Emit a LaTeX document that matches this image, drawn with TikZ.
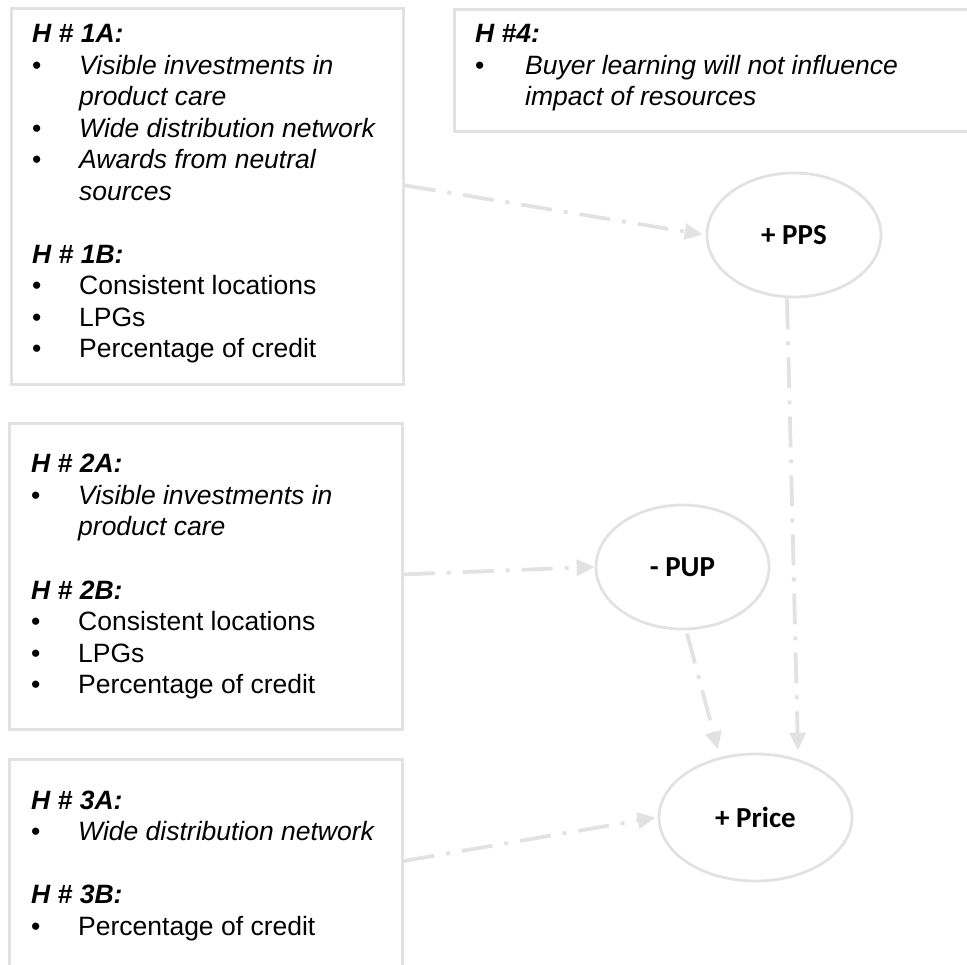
\documentclass[tikz,border=0pt]{standalone}
\usepackage{fontspec}
\setmainfont{Liberation Sans}
\newfontfamily\calfont{Carlito}
\usetikzlibrary{arrows.meta,shapes.geometric}

\definecolor{pale}{RGB}{226,226,226}
\newcommand\txtsize{\fontsize{26.5}{31.5}\selectfont}

% one heading line, one bulleted line, one continuation line
\newcommand\hdrln[4]{\node[hdr] (#1) at (#2,#3) {#4};}
\newcommand\bulln[6]{\node[dotmark] (#1-b) at (#2,#3) {\textbullet};
  \node[#5, xshift=#4pt] (#1) at (#2,#3) {#6};}
\newcommand\contln[5]{\node[#4] (#1) at (#2,#3) {#5};}

\tikzset{
  frame/.style={draw=pale, line width=2.8pt, rectangle, anchor=north west, inner sep=0pt},
  hdr/.style={anchor=base west, inner sep=0pt, font=\txtsize\bfseries\itshape},
  dotmark/.style={anchor=base west, inner sep=0pt, font=\txtsize},
  up/.style={anchor=base west, inner sep=0pt, font=\txtsize},
  it/.style={anchor=base west, inner sep=0pt, font=\txtsize\itshape},
  oval/.style={ellipse, draw=pale, line width=2.8pt, inner sep=0pt,
    font=\calfont\fontsize{29}{34}\selectfont\bfseries},
  conn/.style={draw=pale, line width=3.8pt,
    dash pattern=on 31pt off 12pt on 4pt off 12pt,
    -{Triangle[length=18pt,width=16pt]}}
}

\begin{document}
\begin{tikzpicture}[x=1pt, y=-1pt]
\useasboundingbox (0,0) rectangle (967,965);
\clip (0,0) rectangle (967,965);

% hypothesis boxes
\node[frame, minimum width=392pt, minimum height=376pt] (box1) at (10,7) {};
\node[frame, minimum width=547pt, minimum height=122pt] (box4) at (453,8) {};
\node[frame, minimum width=393pt, minimum height=306pt] (box2) at (8,422) {};
\node[frame, minimum width=393pt, minimum height=242pt] (box3) at (8,758) {};

% box 1
\hdrln{h1a}{32}{43}{H \# 1A:}
\bulln{a1}{32}{74.5}{47}{it}{Visible investments in}
\contln{a1c}{79}{106}{it}{product care}
\bulln{a2}{32}{137.5}{47}{it}{Wide distribution network}
\bulln{a3}{32}{169}{47}{it}{Awards from neutral}
\contln{a3c}{79}{200.5}{it}{sources}
\hdrln{h1b}{32}{263.5}{H \# 1B:}
\bulln{a4}{32}{295}{47}{up}{Consistent locations}
\bulln{a5}{32}{326.5}{47}{up}{LPGs}
\bulln{a6}{32}{358}{47}{up}{Percentage of credit}

% box 4
\hdrln{h4}{475}{43}{H \#4:}
\bulln{d1}{475}{74.5}{50}{it}{Buyer learning will not influence}
\contln{d1c}{525}{106}{it}{impact of resources}

% box 2
\hdrln{h2a}{31}{473}{H \# 2A:}
\bulln{b1}{31}{504.5}{47}{it}{Visible investments in}
\contln{b1c}{78}{536}{it}{product care}
\hdrln{h2b}{31}{599}{H \# 2B:}
\bulln{b2}{31}{630.5}{47}{up}{Consistent locations}
\bulln{b3}{31}{662}{47}{up}{LPGs}
\bulln{b4}{31}{693.5}{47}{up}{Percentage of credit}

% box 3
\hdrln{h3a}{31}{809}{H \# 3A:}
\bulln{c1}{31}{840.5}{47}{it}{Wide distribution network}
\hdrln{h3b}{31}{903.5}{H \# 3B:}
\bulln{c2}{31}{935}{47}{up}{Percentage of credit}

% constructs
\node[oval, minimum width=174pt, minimum height=124pt] (pps) at (794,235) {+ PPS};
\node[oval, minimum width=173pt, minimum height=124pt] (pup) at (682.5,567) {- PUP};
\node[oval, minimum width=193pt, minimum height=127pt] (price) at (755.5,817.5) {+ Price};

% paths
\draw[conn, shorten >=3pt] ([yshift=11pt]box1.east) -- (pps.west);
\draw[conn] ([yshift=2pt]box2.east) -- (pup.west);
\draw[conn] ([yshift=-103pt]box3.north east) -- ([xshift=-2pt]price.west);
\draw[conn] ([xshift=-7pt]pps.south) -- ([shift={(42.5pt,2pt)}]price.north);
\draw[conn] ([shift={(4.5pt,-3pt)}]pup.south) -- ([shift={(-37.5pt,3pt)}]price.north);
\end{tikzpicture}
\end{document}
